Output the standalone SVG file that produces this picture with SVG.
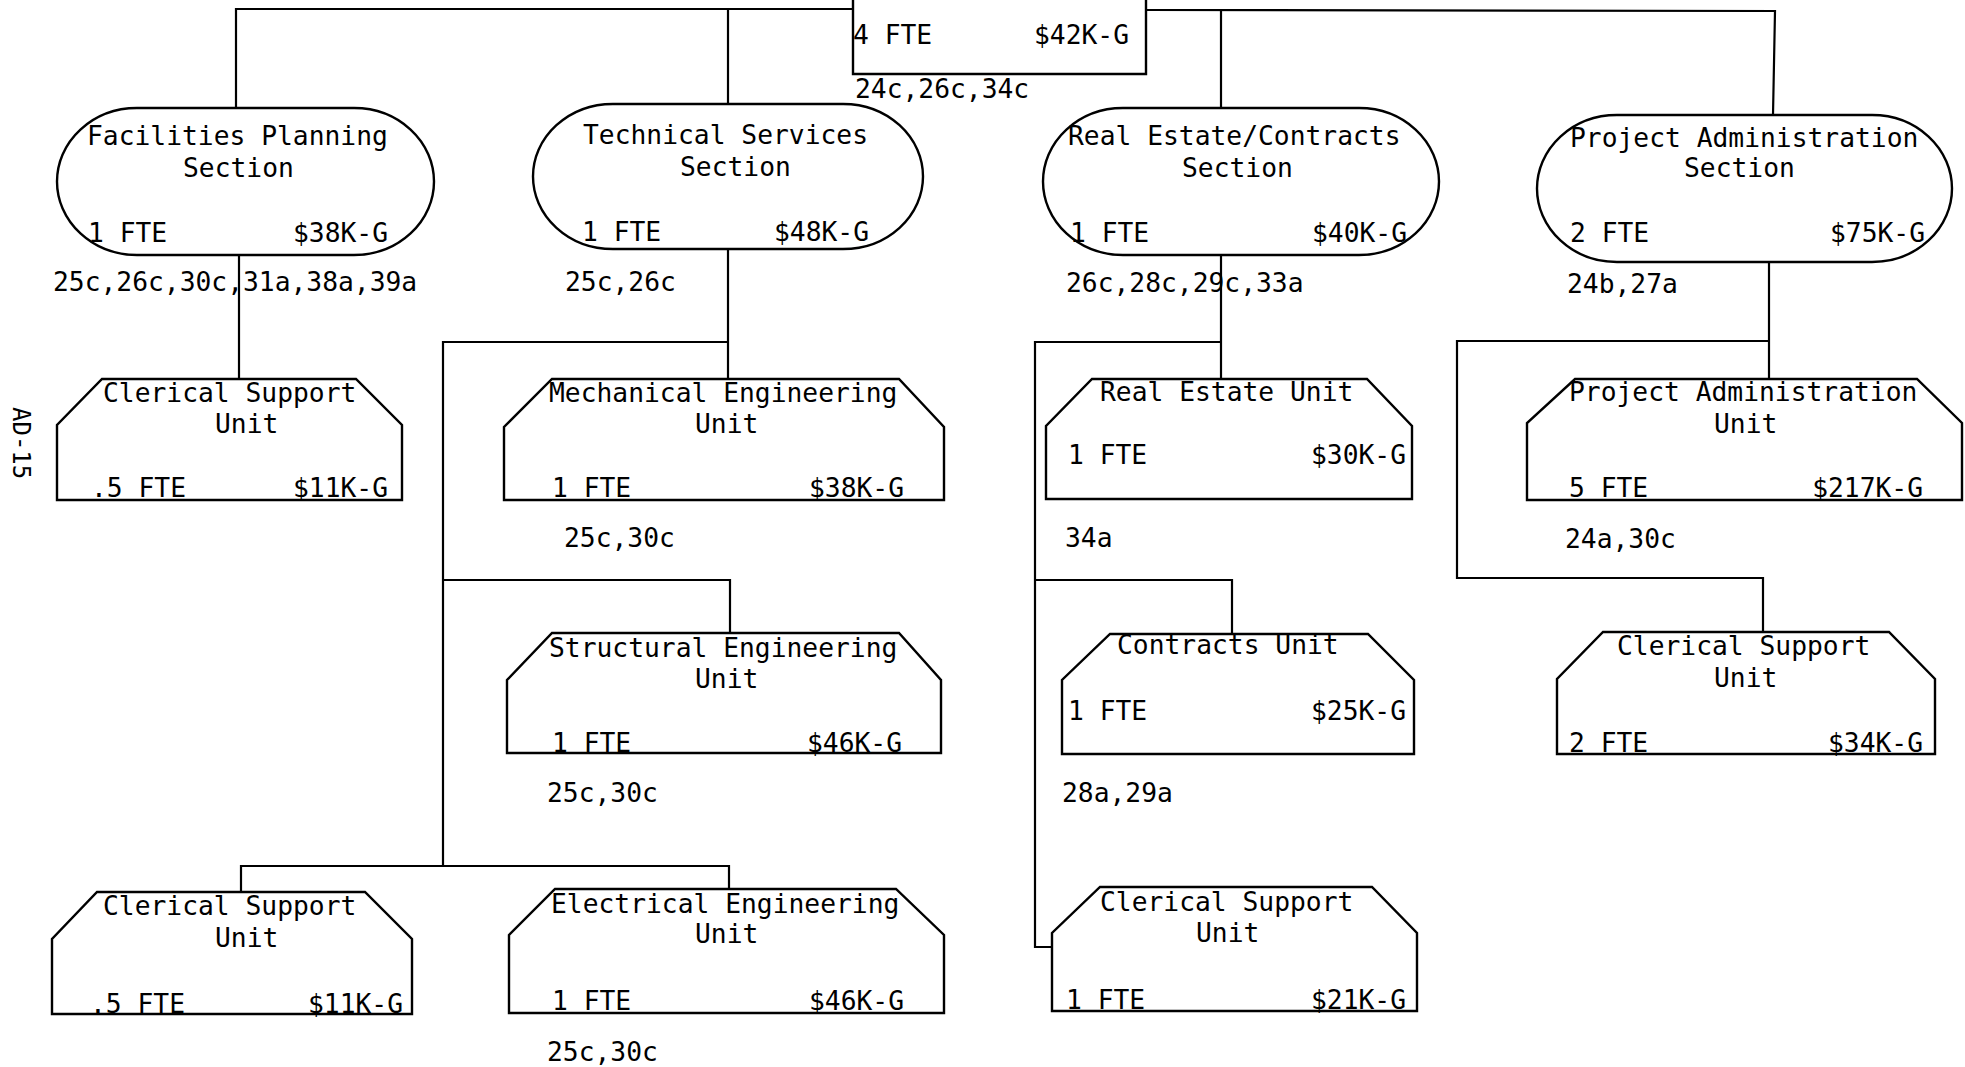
<svg xmlns="http://www.w3.org/2000/svg" width="1965" height="1067" viewBox="0 0 1965 1067">
<style>
  .bg { fill: #ffffff; }
  .shape { fill: none; stroke: #000; stroke-width: 2.4; stroke-linejoin: miter; }
  .conn { fill: none; stroke: #000; stroke-width: 2.2; }
  text { font-family: "DejaVu Sans Mono", "Liberation Mono", monospace; font-size: 26.3px; fill: #000; }
  .end { text-anchor: end; }
  .page { font-size: 24px; }
</style>
<rect class="bg" x="0" y="0" width="1965" height="1067"/>

<g id="connectors">
  <!-- top bus -->
  <polyline class="conn" points="236,108 236,9 853,9"/>
  <line class="conn" x1="728" y1="9" x2="728" y2="104"/>
  <polyline class="conn" points="1146,10 1775,11 1773,115"/>
  <line class="conn" x1="1221" y1="10" x2="1221" y2="108"/>
  <!-- Facilities Planning -->
  <line class="conn" x1="239" y1="255" x2="239" y2="379"/>
  <!-- Technical Services -->
  <line class="conn" x1="728" y1="249" x2="728" y2="379"/>
  <polyline class="conn" points="728,342 443,342 443,866"/>
  <polyline class="conn" points="443,580 730,580 730,633"/>
  <polyline class="conn" points="241,892 241,866 729,866 729,889"/>
  <!-- Real Estate/Contracts -->
  <line class="conn" x1="1221" y1="255" x2="1221" y2="379"/>
  <polyline class="conn" points="1221,342 1035,342 1035,947 1052,947"/>
  <polyline class="conn" points="1035,580 1232,580 1232,634"/>
  <!-- Project Administration -->
  <line class="conn" x1="1769" y1="262" x2="1769" y2="379"/>
  <polyline class="conn" points="1769,341 1457,341 1457,578 1763,578 1763,632"/>
</g>

<g id="top-office">
  <polyline class="shape" points="853,-5 853,74 1146,74 1146,-5"/>
  <text x="853" y="44">4 FTE</text>
  <text class="end" x="1129" y="44">$42K-G</text>
  <text x="855" y="98">24c,26c,34c</text>
</g>

<g id="facilities-planning-section">
  <rect class="shape" x="57" y="108" width="377" height="147" rx="80" ry="73.5"/>
  <text x="87" y="145">Facilities Planning</text>
  <text x="183" y="177">Section</text>
  <text x="88" y="242">1 FTE</text>
  <text class="end" x="388" y="242">$38K-G</text>
  <text x="53" y="291">25c,26c,30c,31a,38a,39a</text>
</g>

<g id="technical-services-section">
  <rect class="shape" x="533" y="104" width="390" height="145" rx="80" ry="72.5"/>
  <text x="583" y="144">Technical Services</text>
  <text x="680" y="176">Section</text>
  <text x="582" y="241">1 FTE</text>
  <text class="end" x="869" y="241">$48K-G</text>
  <text x="565" y="291">25c,26c</text>
</g>

<g id="real-estate-contracts-section">
  <rect class="shape" x="1043" y="108" width="396" height="147" rx="80" ry="73.5"/>
  <text x="1068" y="145">Real Estate/Contracts</text>
  <text x="1182" y="177">Section</text>
  <text x="1070" y="242">1 FTE</text>
  <text class="end" x="1407" y="242">$40K-G</text>
  <text x="1066" y="292">26c,28c,29c,33a</text>
</g>

<g id="project-administration-section">
  <rect class="shape" x="1537" y="115" width="415" height="147" rx="80" ry="73.5"/>
  <text x="1570" y="147">Project Administration</text>
  <text x="1684" y="177">Section</text>
  <text x="1570" y="242">2 FTE</text>
  <text class="end" x="1925" y="242">$75K-G</text>
  <text x="1567" y="293">24b,27a</text>
</g>

<g id="fp-clerical-support-unit">
  <path class="shape" d="M57,500 L57,425 L102,379 L356,379 L402,425 L402,500 Z"/>
  <text x="103" y="402">Clerical Support</text>
  <text x="215" y="433">Unit</text>
  <text x="91" y="497">.5 FTE</text>
  <text class="end" x="388" y="497">$11K-G</text>
</g>

<g id="mechanical-engineering-unit">
  <path class="shape" d="M504,500 L504,427 L552,379 L899,379 L944,427 L944,500 Z"/>
  <text x="549" y="402">Mechanical Engineering</text>
  <text x="695" y="433">Unit</text>
  <text x="552" y="497">1 FTE</text>
  <text class="end" x="904" y="497">$38K-G</text>
  <text x="564" y="547">25c,30c</text>
</g>

<g id="structural-engineering-unit">
  <path class="shape" d="M507,753 L507,680 L552,633 L899,633 L941,680 L941,753 Z"/>
  <text x="549" y="657">Structural Engineering</text>
  <text x="695" y="688">Unit</text>
  <text x="552" y="752">1 FTE</text>
  <text class="end" x="902" y="752">$46K-G</text>
  <text x="547" y="802">25c,30c</text>
</g>

<g id="electrical-engineering-unit">
  <path class="shape" d="M509,1013 L509,935 L555,889 L896,889 L944,935 L944,1013 Z"/>
  <text x="551" y="913">Electrical Engineering</text>
  <text x="695" y="943">Unit</text>
  <text x="552" y="1010">1 FTE</text>
  <text class="end" x="904" y="1010">$46K-G</text>
  <text x="547" y="1061">25c,30c</text>
</g>

<g id="ts-clerical-support-unit">
  <path class="shape" d="M52,1014 L52,939 L97,892 L365,892 L412,939 L412,1014 Z"/>
  <text x="103" y="915">Clerical Support</text>
  <text x="215" y="947">Unit</text>
  <text x="90" y="1013">.5 FTE</text>
  <text class="end" x="403" y="1013">$11K-G</text>
</g>

<g id="real-estate-unit">
  <path class="shape" d="M1046,499 L1046,426 L1092,379 L1367,379 L1412,426 L1412,499 Z"/>
  <text x="1100" y="401">Real Estate Unit</text>
  <text x="1068" y="464">1 FTE</text>
  <text class="end" x="1406" y="464">$30K-G</text>
  <text x="1065" y="547">34a</text>
</g>

<g id="contracts-unit">
  <path class="shape" d="M1062,754 L1062,680 L1110,634 L1368,634 L1414,680 L1414,754 Z"/>
  <text x="1117" y="654">Contracts Unit</text>
  <text x="1068" y="720">1 FTE</text>
  <text class="end" x="1406" y="720">$25K-G</text>
  <text x="1062" y="802">28a,29a</text>
</g>

<g id="re-clerical-support-unit">
  <path class="shape" d="M1052,1011 L1052,933 L1100,887 L1372,887 L1417,933 L1417,1011 Z"/>
  <text x="1100" y="911">Clerical Support</text>
  <text x="1196" y="942">Unit</text>
  <text x="1066" y="1009">1 FTE</text>
  <text class="end" x="1406" y="1009">$21K-G</text>
</g>

<g id="project-administration-unit">
  <path class="shape" d="M1527,500 L1527,423 L1575,379 L1917,379 L1962,423 L1962,500 Z"/>
  <text x="1569" y="401">Project Administration</text>
  <text x="1714" y="433">Unit</text>
  <text x="1569" y="497">5 FTE</text>
  <text class="end" x="1923" y="497">$217K-G</text>
  <text x="1565" y="548">24a,30c</text>
</g>

<g id="pa-clerical-support-unit">
  <path class="shape" d="M1557,754 L1557,679 L1603,632 L1889,632 L1935,679 L1935,754 Z"/>
  <text x="1617" y="655">Clerical Support</text>
  <text x="1714" y="687">Unit</text>
  <text x="1569" y="752">2 FTE</text>
  <text class="end" x="1923" y="752">$34K-G</text>
</g>

<text class="page" transform="translate(13,407) rotate(90)">AD-15</text>
</svg>
